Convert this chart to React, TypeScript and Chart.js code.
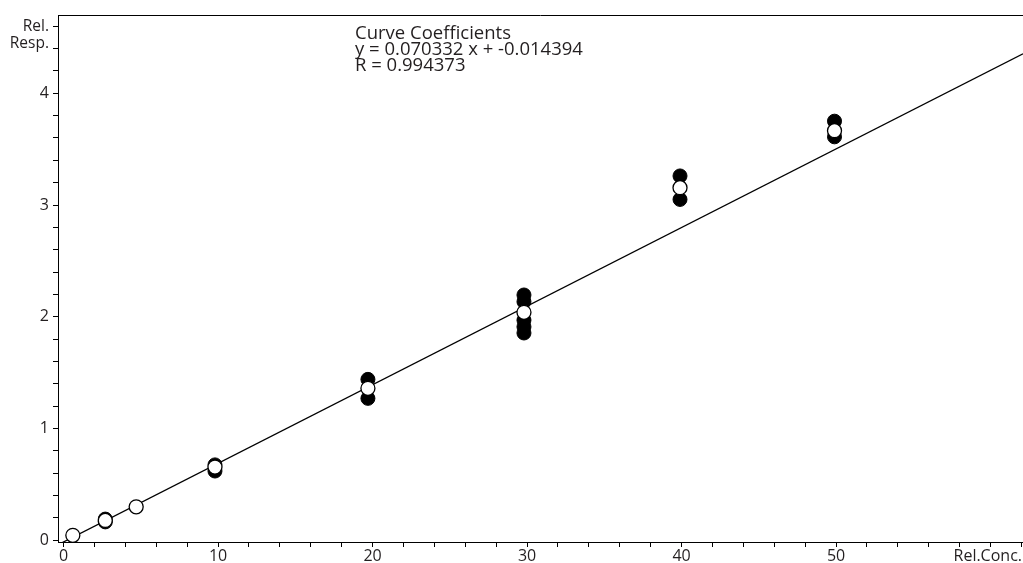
import React, { useEffect, useRef } from 'react';
import { Chart, registerables } from 'chart.js';

Chart.register(...registerables);

// ---- data ----
const filledX = [2.7, 2.7, 9.8, 9.8, 19.7, 19.7, 29.8, 29.8, 29.8, 29.8, 29.8, 39.9, 39.9, 49.9, 49.9];
const filledY = [0.19, 0.165, 0.675, 0.62, 1.44, 1.27, 2.195, 2.135, 1.97, 1.91, 1.855, 3.26, 3.05, 3.75, 3.61];
const openX = [0.6, 2.7, 4.7, 9.8, 19.7, 29.8, 39.9, 49.9];
const openY = [0.045, 0.178, 0.3, 0.655, 1.36, 2.04, 3.155, 3.665];

const slope = 0.070332;
const intercept = -0.014394;
const rValue = 0.994373;

const xMin = -0.36;
const xMax = 62.1;
const yMin = -0.015;
const yMax = 4.7;
const xMinorStep = 2;
const yMinorStep = 0.2;
const xLabelValues = [0, 10, 20, 30, 40, 50];
const yLabelValues = [0, 1, 2, 3, 4];

const annotationLines = ['Curve Coefficients', `y = ${slope} x + ${intercept}`, `R = ${rValue}`];
const yTitleLines = ['Rel.', 'Resp.'];
const xTitle = 'Rel.Conc.';

const FONT = '"Open Sans", Lato, sans-serif';
const TEXT = '#231f20';

const labelFor = (v: number, list: number[]) => {
  const hit = list.find((l) => Math.abs(l - v) < 1e-6);
  return hit === undefined ? '' : String(hit);
};

const decorPlugin = {
  id: 'decor',
  afterDraw(chart: any) {
    const { ctx, chartArea } = chart;
    ctx.save();
    // top frame line
    ctx.strokeStyle = '#000';
    ctx.lineWidth = 1;
    ctx.beginPath();
    ctx.moveTo(chartArea.left, chartArea.top + 0.5);
    ctx.lineTo(chartArea.right, chartArea.top + 0.5);
    ctx.stroke();

    ctx.fillStyle = TEXT;
    ctx.textBaseline = 'alphabetic';
    // annotation
    ctx.font = `18.5px ${FONT}`;
    ctx.textAlign = 'left';
    annotationLines.forEach((t, i) => ctx.fillText(t, 355, 39 + i * 16));
    // y title
    ctx.font = `15.5px ${FONT}`;
    ctx.textAlign = 'right';
    yTitleLines.forEach((t, i) => ctx.fillText(t, 49, 31 + i * 17));
    // x title
    ctx.font = `16px ${FONT}`;
    ctx.fillText(xTitle, chart.width - 1, 561);
    ctx.restore();
  },
};

export default function App() {
  const ref = useRef<HTMLCanvasElement>(null);

  useEffect(() => {
    if (!ref.current) return;
    const lineData = [
      { x: xMin, y: slope * xMin + intercept },
      { x: xMax, y: slope * xMax + intercept },
    ];
    const chart = new Chart(ref.current, {
      type: 'scatter',
      data: {
        datasets: [
          {
            label: 'open',
            data: openX.map((x, i) => ({ x, y: openY[i] })),
            pointRadius: 7,
            pointBackgroundColor: '#fff',
            pointBorderColor: '#000',
            pointBorderWidth: 1.3,
            order: 0,
          },
          {
            label: 'filled',
            data: filledX.map((x, i) => ({ x, y: filledY[i] })),
            pointRadius: 7,
            pointBackgroundColor: '#000',
            pointBorderColor: '#000',
            pointBorderWidth: 1,
            order: 1,
          },
          {
            label: 'fit',
            data: lineData,
            showLine: true,
            pointRadius: 0,
            borderColor: '#000',
            borderWidth: 1.3,
            order: 2,
          } as any,
        ],
      },
      options: {
        responsive: false,
        animation: false,
        events: [],
        layout: { autoPadding: false, padding: { top: 15, right: 0, left: 0, bottom: 0 } },
        plugins: { legend: { display: false }, tooltip: { enabled: false }, title: { display: false } },
        scales: {
          x: {
            type: 'linear',
            min: xMin,
            max: xMax,
            afterFit: (s: any) => {
              s.height = 21;
              s.paddingRight = 0;
              s.paddingLeft = 0;
            },
            border: { display: true, color: '#000', width: 1 },
            grid: { display: true, drawOnChartArea: false, drawTicks: true, tickLength: 5, color: '#000', tickColor: '#000' },
            ticks: {
              stepSize: xMinorStep,
              includeBounds: false,
              autoSkip: false,
              maxRotation: 0,
              maxTicksLimit: 1000,
              padding: 0,
              color: TEXT,
              font: { size: 16, family: FONT },
              callback: (v: any) => labelFor(Number(v), xLabelValues),
            },
          },
          y: {
            type: 'linear',
            min: yMin,
            max: yMax,
            afterFit: (s: any) => {
              s.width = 58;
              s.paddingTop = 0;
              s.paddingBottom = 0;
            },
            border: { display: true, color: '#000', width: 1 },
            grid: { display: true, drawOnChartArea: false, drawTicks: true, tickLength: 5, color: '#000', tickColor: '#000' },
            ticks: {
              stepSize: yMinorStep,
              includeBounds: false,
              autoSkip: false,
              maxTicksLimit: 1000,
              padding: 4,
              color: TEXT,
              font: { size: 16, family: FONT },
              callback: (v: any) => labelFor(Number(v), yLabelValues),
            },
          },
        },
      },
      plugins: [decorPlugin],
    });
    return () => chart.destroy();
  }, []);

  return (
    <div style={{ position: 'fixed', left: 0, top: 0, width: 1023, height: 563, background: '#fff' }}>
      <canvas ref={ref} width={1023} height={563} />
    </div>
  );
}
